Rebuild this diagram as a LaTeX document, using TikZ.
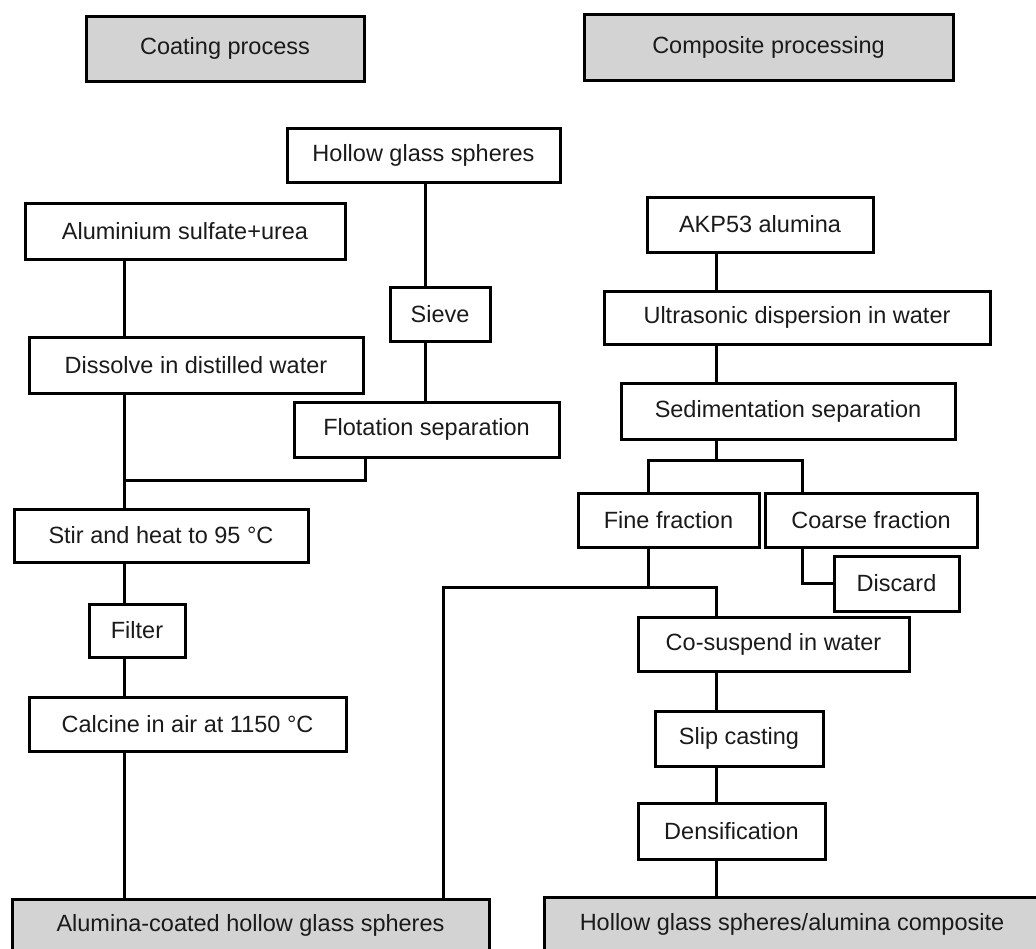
\documentclass[tikz,border=0pt]{standalone}
\usepackage{fontspec}
\setmainfont{Liberation Sans}
\usetikzlibrary{positioning}
\definecolor{headgray}{HTML}{D3D3D3}
\definecolor{inkgray}{HTML}{1A1A1A}

\begin{document}
\begin{tikzpicture}[x=1pt,y=-1pt,on grid,line width=3pt,
    proc/.style={draw,inner sep=0pt,minimum height=54pt,text=inkgray,
      font=\fontsize{23.5}{27}\selectfont},
    head/.style={proc,fill=headgray}]
    \path[use as bounding box,clip] (0,0) rectangle (1036,948);
        % column positions of the trunk lines
        \coordinate (lcol) at (124,0);
        \coordinate (fcol) at (365,0);
        \coordinate (hcol) at (425,0);
        \coordinate (bcol) at (443,0);
        \coordinate (ffcol) at (648,0);
        \coordinate (rcol) at (716,0);
        \coordinate (ccol) at (802,0);
        \coordinate (ljoin) at (124,480);
        \coordinate (split) at (716,460);
        \coordinate (merge) at (716,587);

        % coating process
        \node[head,minimum width=278pt,minimum height=65pt] (coat) at (225,48.5) {Coating process};
        \node[proc,minimum width=273pt] (hgs) at (423.5,155) {Hollow glass spheres};
        \node[proc,minimum width=320pt,minimum height=56pt] (alsu) at (185,231) {Aluminium sulfate+urea};
        \node[proc,minimum width=334pt,minimum height=56pt] (diss) [below=134pt of alsu,xshift=11pt] {Dissolve in distilled water};
        \node[proc,minimum width=100pt] (sieve) [below=159pt of hgs,xshift=16.5pt] {Sieve};
        \node[proc,minimum width=265pt,minimum height=55pt] (flot) [below=115.5pt of sieve,xshift=-13.5pt] {Flotation separation};
        \node[proc,minimum width=294pt,minimum height=53pt] (stir) at (161,535.5) {Stir and heat to 95 °C};
        \node[proc,minimum width=96pt,minimum height=53pt] (filter) [below=95pt of stir,xshift=-24pt] {Filter};
        \node[proc,minimum width=317pt] (calc) [below=93.5pt of filter,xshift=50.5pt] {Calcine in air at 1150 °C};
        \node[head,minimum width=477pt,minimum height=52pt] (acgs) at (250.5,925) {Alumina-coated hollow glass spheres};

        % composite processing
        \node[head,minimum width=369pt,minimum height=66pt] (comp) at (768.5,47) {Composite processing};
        \node[proc,minimum width=226pt,minimum height=55pt] (akp) at (760,224.5) {AKP53 alumina};
        \node[proc,minimum width=386pt,minimum height=53pt] (ultra) [below=93pt of akp,xshift=37pt] {Ultrasonic dispersion in water};
        \node[proc,minimum width=334pt,minimum height=56pt] (sedi) [below=93.5pt of ultra,xshift=-9pt] {Sedimentation separation};
        \node[proc,minimum width=181pt] (fine) at (668.5,520) {Fine fraction};
        \node[proc,minimum width=212pt] (coarse) [right=202.5pt of fine] {Coarse fraction};
        \node[proc,minimum width=125pt,minimum height=55pt] (disc) at (896.5,583.5) {Discard};
        \node[proc,minimum width=271pt] (cosus) at (773.5,644) {Co-suspend in water};
        \node[proc,minimum width=168pt,minimum height=55pt] (slip) [below=94.5pt of cosus,xshift=-34.5pt] {Slip casting};
        \node[proc,minimum width=187pt,minimum height=56pt] (dens) [below=92.5pt of slip,xshift=-7.5pt] {Densification};
        \node[head,minimum width=496pt] (hgac) at (792,924) {Hollow glass spheres/alumina composite};

        \draw (alsu.south -| lcol) -- (diss.north -| lcol);
        \draw (diss.south -| lcol) -- (stir.north -| lcol);
        \draw (flot.south -| fcol) |- (ljoin);
        \draw (hgs.south -| hcol) -- (sieve.north -| hcol);
        \draw (sieve.south -| hcol) -- (flot.north -| hcol);
        \draw (stir.south -| lcol) -- (filter.north -| lcol);
        \draw (filter.south -| lcol) -- (calc.north -| lcol);
        \draw (calc.south -| lcol) -- (acgs.north -| lcol);
        \draw (akp.south -| rcol) -- (ultra.north -| rcol);
        \draw (ultra.south -| rcol) -- (sedi.north -| rcol);
        \draw (sedi.south -| rcol) -- (split);
        \draw (fine.north -| ffcol) |- (split) -| (coarse.north -| ccol);
        \draw (coarse.south -| ccol) |- (disc.west);
        \draw (fine.south -| ffcol) -- (merge -| ffcol);
        \draw (acgs.north -| bcol) |- (merge) -- (cosus.north -| rcol);
        \draw (cosus.south -| rcol) -- (slip.north -| rcol);
        \draw (slip.south -| rcol) -- (dens.north -| rcol);
        \draw (dens.south -| rcol) -- (hgac.north -| rcol);
    \end{tikzpicture}
\end{document}
